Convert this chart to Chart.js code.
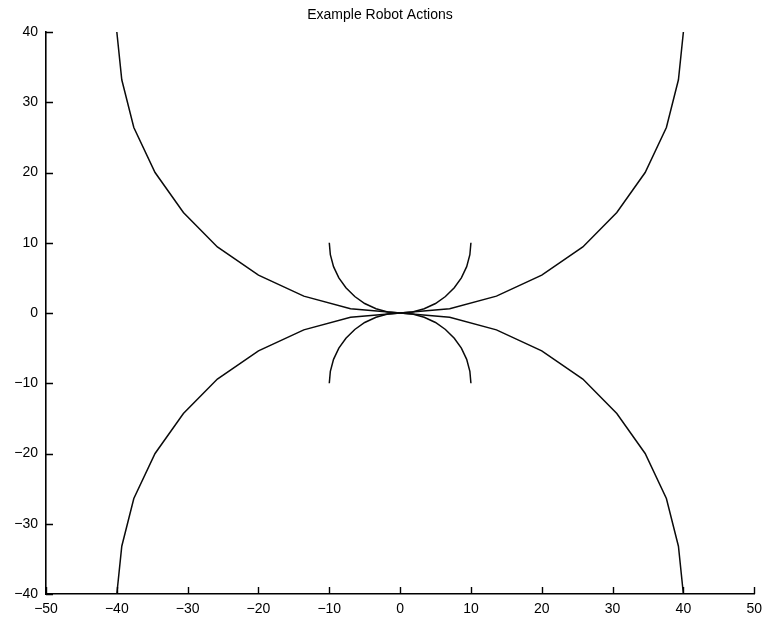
<!DOCTYPE html>
<html>
<head>
<meta charset="utf-8">
<script src="https://cdn.jsdelivr.net/npm/chart.js@4/dist/chart.umd.min.js"></script>
<style>
  html, body { margin: 0; padding: 0; background: #fff; }
  #wrap { width: 769px; height: 618px; }
</style>
</head>
<body>
<div id="wrap"><canvas id="c" width="769" height="618"></canvas></div>
<script>
// ---- Data ----
const chartTitle = "Example Robot Actions";
const xTickValues = [-50, -40, -30, -20, -10, 0, 10, 20, 30, 40, 50];
const yTickValues = [-40, -30, -20, -10, 0, 10, 20, 30, 40];

// Large arcs (radius ~40)
const largeLeftX  = [-40, -39.3, -37.6, -34.6, -30.6, -25.8, -20, -13.6, -7, 0];
const largeRightX = [40, 39.3, 37.6, 34.6, 30.6, 25.8, 20, 13.6, 7, 0];
const largeUpperY = [40, 33.2, 26.4, 20, 14.3, 9.4, 5.4, 2.4, 0.6, 0];
const largeLowerY = [-40, -33.2, -26.4, -20, -14.3, -9.4, -5.4, -2.4, -0.6, 0];

// Small arcs (radius ~10)
const smallLeftX  = [-10, -9.85, -9.4, -8.65, -7.65, -6.4, -5, -3.4, -1.75, 0];
const smallRightX = [10, 9.85, 9.4, 8.65, 7.65, 6.4, 5, 3.4, 1.75, 0];
const smallUpperY = [10, 8.3, 6.6, 5, 3.6, 2.35, 1.35, 0.6, 0.15, 0];
const smallLowerY = [-10, -8.3, -6.6, -5, -3.6, -2.35, -1.35, -0.6, -0.15, 0];

const curves = [
  [largeLeftX, largeUpperY], [largeRightX, largeUpperY],
  [largeLeftX, largeLowerY], [largeRightX, largeLowerY],
  [smallLeftX, smallUpperY], [smallRightX, smallUpperY],
  [smallLeftX, smallLowerY], [smallRightX, smallLowerY]
];

function toPoints(xs, ys) {
  return xs.map((x, i) => ({ x: x, y: ys[i] }));
}

const datasets = curves.map(([xs, ys]) => ({
  data: toPoints(xs, ys),
  showLine: true,
  borderColor: '#0a0a0a',
  borderWidth: 1.5,
  pointRadius: 0,
  fill: false,
  tension: 0
}));

const FONT = "'Liberation Sans', Arial, Helvetica, sans-serif";

const inwardTicks = {
  id: 'inwardTicks',
  afterDraw(chart) {
    const ctx = chart.ctx;
    const xs = chart.scales.x, ys = chart.scales.y;
    const a = chart.chartArea;
    ctx.save();
    ctx.strokeStyle = '#000';
    ctx.lineWidth = 1.4;
    ctx.beginPath();
    xTickValues.forEach(v => {
      const px = Math.round(xs.getPixelForValue(v)) + 0.5;
      ctx.moveTo(px, a.bottom);
      ctx.lineTo(px, a.bottom - 7);
    });
    yTickValues.forEach(v => {
      const py = Math.round(ys.getPixelForValue(v)) + 0.5;
      ctx.moveTo(a.left, py);
      ctx.lineTo(a.left + 7, py);
    });
    ctx.stroke();
    ctx.restore();
  }
};

new Chart(document.getElementById('c'), {
  type: 'scatter',
  data: { datasets: datasets },
  plugins: [inwardTicks],
  options: {
    responsive: false,
    animation: false,
    layout: { padding: { left: 0, right: 9, top: 0, bottom: 0 } },
    plugins: {
      legend: { display: false },
      tooltip: { enabled: false },
      title: {
        display: true,
        text: chartTitle,
        color: '#000',
        font: { family: FONT, size: 14, weight: 'normal', lineHeight: 1.2 },
        padding: { top: 7, bottom: 8.2 }
      }
    },
    scales: {
      x: {
        type: 'linear',
        min: -50, max: 50,
        afterBuildTicks(scale) { scale.ticks = xTickValues.map(v => ({ value: v })); },
        afterFit(scale) { scale.height = 24; },
        grid: { display: true, drawOnChartArea: false, drawTicks: false },
        border: { display: true, color: '#000', width: 1.6 },
        ticks: {
          autoSkip: false, maxRotation: 0, padding: 7,
          color: '#000',
          font: { family: FONT, size: 14 },
          callback: v => String(v).replace('-', '\u2212')
        }
      },
      y: {
        type: 'linear',
        min: -40, max: 40,
        afterBuildTicks(scale) { scale.ticks = yTickValues.map(v => ({ value: v })); },
        afterFit(scale) { scale.width = 46; },
        grid: { display: true, drawOnChartArea: false, drawTicks: false },
        border: { display: true, color: '#000', width: 1.6 },
        ticks: {
          autoSkip: false, padding: 8,
          color: '#000',
          font: { family: FONT, size: 14 },
          callback: v => String(v).replace('-', '\u2212')
        }
      }
    }
  }
});
</script>
</body>
</html>
